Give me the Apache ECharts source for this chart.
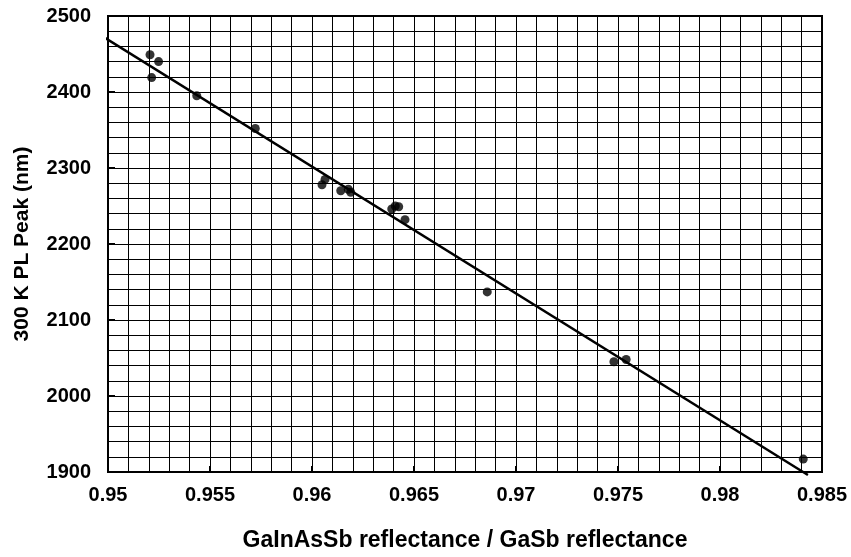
<!DOCTYPE html>
<html>
<head>
<meta charset="utf-8">
<script src="https://cdn.jsdelivr.net/npm/echarts@6/dist/echarts.min.js"></script>
<style>
  html, body { margin: 0; padding: 0; background: #fff; }
  #chart { width: 851px; height: 557px; }
</style>
</head>
<body>
<div id="chart"></div>
<script>
// Measured samples: reflectance ratio vs. room-temperature PL peak
const ratio = [0.95206, 0.95248, 0.95214, 0.95435, 0.95722, 0.96049, 0.96064, 0.96141, 0.96178, 0.9619,
               0.96391, 0.96408, 0.96425, 0.96456, 0.96859, 0.9748, 0.9754, 0.98408];
const plPeak = [2449, 2440, 2419, 2395, 2352, 2278, 2285, 2270, 2272, 2268,
                2246, 2250, 2249, 2232, 2137, 2045, 2048, 1917];

// Linear fit, endpoints
const fitRatio = [0.94985, 0.98431];
const fitPeak = [2471.2, 1896.1];

// Axis ranges / tick spacing
const xTicks = [0.95, 0.985, 0.005];
const yTicks = [1900, 2500, 100];

const FONT = '"Liberation Sans", Arial, Helvetica, sans-serif';

const chart = echarts.init(document.getElementById('chart'), null, { renderer: 'canvas' });

const gridLine = { show: true, lineStyle: { color: '#000', width: 1, type: 'solid' } };

chart.setOption({
  backgroundColor: '#fff',
  animation: false,
  grid: {
    left: 108, top: 16, width: 714, height: 459,
    show: true, borderColor: '#000', borderWidth: 2, backgroundColor: 'transparent'
  },
  xAxis: {
    type: 'value',
    min: xTicks[0], max: xTicks[1], interval: xTicks[2],
    name: 'GaInAsSb reflectance / GaSb reflectance',
    nameLocation: 'middle', nameGap: 57,
    nameTextStyle: { fontFamily: FONT, fontWeight: 'bold', fontSize: 23, color: '#000' },
    axisLine: { show: true, lineStyle: { color: '#000', width: 2 } },
    axisTick: { show: true, inside: true, length: 6, lineStyle: { color: '#000', width: 2 } },
    minorTick: { show: false, splitNumber: 5 },
    splitLine: gridLine,
    minorSplitLine: { show: true, lineStyle: { color: '#000', width: 1 } },
    axisLabel: {
      margin: 13, color: '#000', fontFamily: FONT, fontWeight: 'bold', fontSize: 20,
      formatter: v => String(+v.toFixed(3))
    }
  },
  yAxis: {
    type: 'value',
    min: yTicks[0], max: yTicks[1], interval: yTicks[2],
    name: '300 K PL Peak (nm)',
    nameLocation: 'middle', nameGap: 75, nameRotate: 90,
    nameTextStyle: { fontFamily: FONT, fontWeight: 'bold', fontSize: 21, color: '#000' },
    axisLine: { show: true, lineStyle: { color: '#000', width: 2 } },
    axisTick: { show: true, inside: true, length: 7, lineStyle: { color: '#000', width: 2 } },
    minorTick: { show: false, splitNumber: 5 },
    splitLine: gridLine,
    minorSplitLine: { show: true, lineStyle: { color: '#000', width: 1 } },
    axisLabel: {
      margin: 17, color: '#000', fontFamily: FONT, fontWeight: 'bold', fontSize: 20,
      formatter: v => String(v)
    }
  },
  series: [
    {
      type: 'line',
      data: fitRatio.map((x, i) => [x, fitPeak[i]]),
      showSymbol: false,
      clip: false,
      lineStyle: { color: '#000', width: 2.5 },
      z: 3
    },
    {
      type: 'scatter',
      data: ratio.map((x, i) => [x, plPeak[i]]),
      symbol: 'circle',
      symbolSize: 9,
      itemStyle: { color: '#000' },
      z: 4
    }
  ]
});
</script>
</body>
</html>
